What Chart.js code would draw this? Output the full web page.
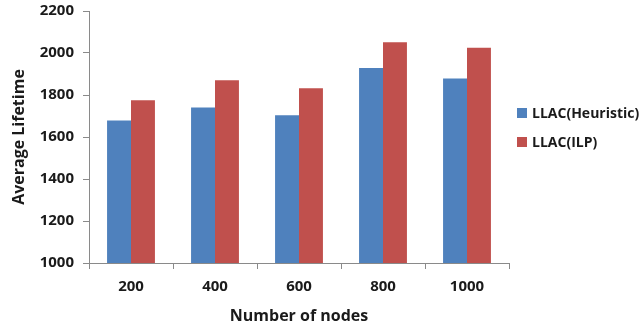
<!DOCTYPE html>
<html>
<head>
<meta charset="utf-8">
<script src="https://cdn.jsdelivr.net/npm/chart.js@4/dist/chart.umd.min.js"></script>
<style>
  html, body { margin: 0; padding: 0; background: #ffffff; overflow: hidden; }
  #wrap { width: 640px; height: 329px; position: relative; }
</style>
</head>
<body>
<div id="wrap"><canvas id="c" width="640" height="329"></canvas></div>
<script>
// Network size per scenario
const nodeCounts = ['200', '400', '600', '800', '1000'];
// Average lifetime for each approach
const heuristicLifetime = [1678, 1741, 1703, 1929, 1878];
const ilpLifetime = [1775, 1870, 1832, 2051, 2025];
// Vertical axis range
const yTicks = [1000, 1200, 1400, 1600, 1800, 2000, 2200];

const FONT = '"Open Sans", Lato, sans-serif';
const AXIS_GREY = '#8a8a8a';
const TEXT = '#1a1a1a';

// Legend drawn to the right of the plot, squares followed by labels
const sideLegend = {
  id: 'sideLegend',
  afterDraw(chart) {
    const ctx = chart.ctx;
    ctx.save();
    ctx.font = 'bold 14px ' + FONT;
    ctx.textBaseline = 'middle';
    ctx.textAlign = 'left';
    const x = 517, ys = [113, 142];
    chart.data.datasets.forEach((ds, i) => {
      ctx.fillStyle = ds.backgroundColor;
      ctx.fillRect(x, ys[i] - 5, 10, 10);
      ctx.fillStyle = TEXT;
      ctx.fillText(ds.label, x + 15, ys[i] + 1);
    });
    ctx.restore();
  }
};

new Chart(document.getElementById('c'), {
  type: 'bar',
  data: {
    labels: nodeCounts,
    datasets: [
      { label: 'LLAC(Heuristic)', data: heuristicLifetime, backgroundColor: '#4F81BD' },
      { label: 'LLAC(ILP)', data: ilpLifetime, backgroundColor: '#C0504D' }
    ]
  },
  options: {
    responsive: false,
    animation: false,
    devicePixelRatio: 1,
    layout: { padding: { top: 11, right: 131, left: 0, bottom: 0 } },
    datasets: { bar: { barPercentage: 1.0, categoryPercentage: 0.57 } },
    plugins: { legend: { display: false }, tooltip: { enabled: false } },
    scales: {
      x: {
        offset: true,
        grid: { offset: true, drawOnChartArea: false, drawTicks: true, tickLength: 6, color: AXIS_GREY },
        border: { display: true, color: AXIS_GREY, width: 1 },
        ticks: { color: TEXT, font: { family: FONT, size: 15, weight: 'bold' }, padding: 9 },
        title: { display: true, text: 'Number of nodes', color: TEXT,
                 font: { family: FONT, size: 16, weight: 'bold' }, padding: { top: 2, bottom: 3 } },
        afterFit(scale) { scale.height = 66; scale.paddingLeft = 0; scale.paddingRight = 0; }
      },
      y: {
        min: yTicks[0],
        max: yTicks[yTicks.length - 1],
        afterBuildTicks(scale) { scale.ticks = yTicks.map(v => ({ value: v })); },
        grid: { drawOnChartArea: false, drawTicks: true, tickLength: 6, color: AXIS_GREY },
        border: { display: true, color: AXIS_GREY, width: 1 },
        ticks: { color: TEXT, font: { family: FONT, size: 15, weight: 'bold' }, padding: 9,
                 callback: v => String(v) },
        title: { display: true, text: 'Average Lifetime', color: TEXT,
                 font: { family: FONT, size: 16, weight: 'bold' }, padding: { top: 10, bottom: 4 } },
        afterFit(scale) { scale.width = 89; scale.paddingTop = 0; scale.paddingBottom = 0; }
      }
    }
  },
  plugins: [sideLegend]
});
</script>
</body>
</html>
